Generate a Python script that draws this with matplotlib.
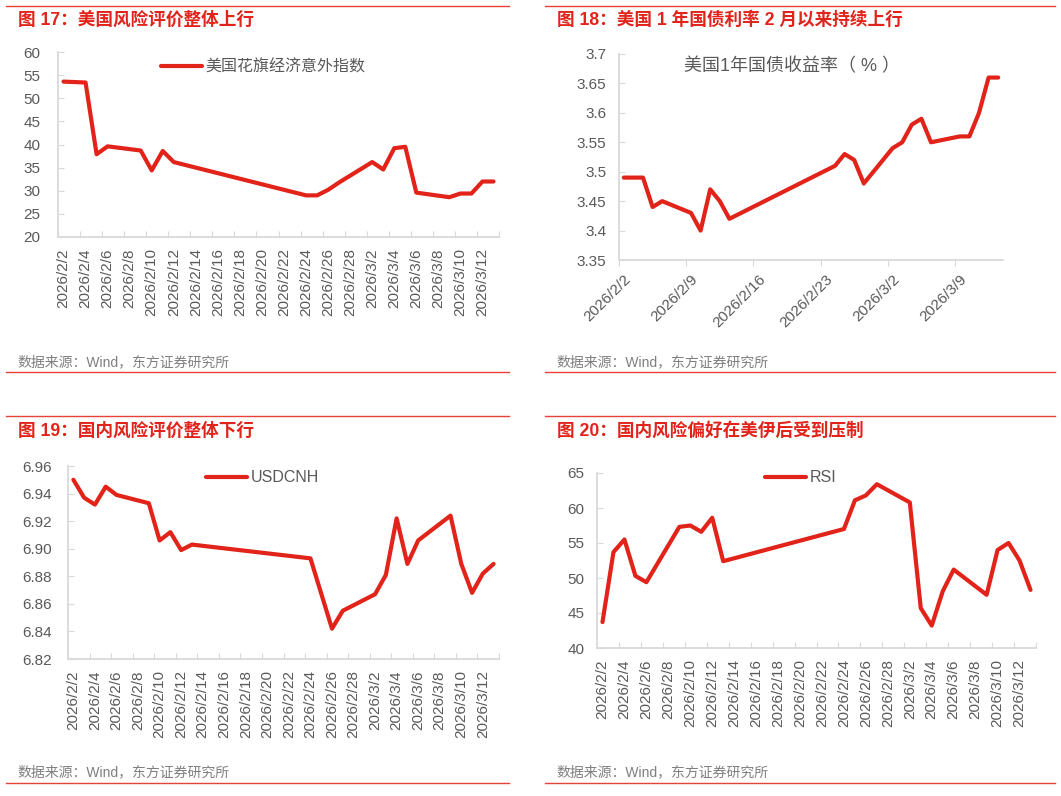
import matplotlib
matplotlib.use('Agg')
import matplotlib.pyplot as plt
from matplotlib.lines import Line2D
from matplotlib.ticker import FuncFormatter
import pandas as pd

plt.rcParams['font.family'] = ['Liberation Sans', 'Noto Sans CJK SC', 'DejaVu Sans']

# ---- data ----
dates1 = ['2/2', '2/3', '2/4', '2/5', '2/6', '2/9', '2/10', '2/11', '2/12', '2/24', '2/25',
          '2/26', '2/27', '3/2', '3/3', '3/4', '3/5', '3/6', '3/9', '3/10', '3/11', '3/12', '3/13']
citi = [53.6, 53.5, 53.4, 37.9, 39.6, 38.7, 34.4, 38.6, 36.2, 29.0, 29.0,
        30.2, 31.8, 36.2, 34.6, 39.2, 39.5, 29.6, 28.6, 29.4, 29.4, 32.0, 32.0]

dates2 = ['2/2', '2/3', '2/4', '2/5', '2/6', '2/9', '2/10', '2/11', '2/12', '2/13', '2/24', '2/25',
          '2/26', '2/27', '3/2', '3/3', '3/4', '3/5', '3/6', '3/9', '3/10', '3/11', '3/12', '3/13']
ust1y = [3.49, 3.49, 3.49, 3.44, 3.45, 3.43, 3.40, 3.47, 3.45, 3.42, 3.51, 3.53,
         3.52, 3.48, 3.54, 3.55, 3.58, 3.59, 3.55, 3.56, 3.56, 3.60, 3.66, 3.66]

dates3 = ['2/2', '2/3', '2/4', '2/5', '2/6', '2/9', '2/10', '2/11', '2/12', '2/13', '2/24',
          '2/26', '2/27', '3/2', '3/3', '3/4', '3/5', '3/6', '3/9', '3/10', '3/11', '3/12', '3/13']
usdcnh = [6.950, 6.937, 6.932, 6.945, 6.939, 6.933, 6.906, 6.912, 6.899, 6.903, 6.893,
          6.842, 6.855, 6.867, 6.881, 6.922, 6.889, 6.906, 6.924, 6.889, 6.868, 6.882, 6.889]

dates4 = ['2/2', '2/3', '2/4', '2/5', '2/6', '2/9', '2/10', '2/11', '2/12', '2/13', '2/24', '2/25',
          '2/26', '2/27', '3/2', '3/3', '3/4', '3/5', '3/6', '3/9', '3/10', '3/11', '3/12', '3/13']
rsi = [43.7, 53.7, 55.5, 50.3, 49.4, 57.3, 57.5, 56.6, 58.6, 52.4, 57.0, 61.1,
       61.8, 63.4, 60.8, 45.7, 43.2, 48.1, 51.2, 47.6, 54.0, 55.0, 52.5, 48.3]

labels_2d = ['2026/2/2', '2026/2/4', '2026/2/6', '2026/2/8', '2026/2/10', '2026/2/12',
             '2026/2/14', '2026/2/16', '2026/2/18', '2026/2/20', '2026/2/22', '2026/2/24',
             '2026/2/26', '2026/2/28', '2026/3/2', '2026/3/4', '2026/3/6', '2026/3/8',
             '2026/3/10', '2026/3/12']
labels_7d = ['2026/2/2', '2026/2/9', '2026/2/16', '2026/2/23', '2026/3/2', '2026/3/9']

titles = ['图 17：美国风险评价整体上行', '图 18：美国 1 年国债利率 2 月以来持续上行',
          '图 19：国内风险评价整体下行', '图 20：国内风险偏好在美伊后受到压制']
source = '数据来源：Wind，东方证券研究所'

base = pd.Timestamp('2026-02-02')


def day_index(ds):
    return [(pd.Timestamp('2026/' + d) - base).days for d in ds]


def label_index(ls):
    return [(pd.Timestamp(s) - base).days for s in ls]


RED = '#E2231A'
GRAY = '#595959'
AXC = '#D9D9D9'
W, H = 1061, 796

fig = plt.figure(figsize=(W / 100, H / 100), dpi=100)


def box(l, r, t, b):
    return [l / W, 1 - b / H, (r - l) / W, (b - t) / H]


def style(ax, ypad, tickdir='in'):
    for s in ['top', 'right']:
        ax.spines[s].set_visible(False)
    for s in ['left', 'bottom']:
        ax.spines[s].set_color(AXC)
        ax.spines[s].set_linewidth(1.3)
    ax.tick_params(axis='y', direction='in', length=4, color=AXC, labelcolor=GRAY, labelsize=11, pad=ypad)
    ax.tick_params(axis='x', which='major', direction=tickdir, length=4, color=AXC, labelsize=11)
    ax.set_xlim(-0.5, 39.5)


def date_ticks90(ax):
    ax.set_xticks([i - 0.5 for i in range(0, 41, 2)])
    ax.set_xticklabels([])
    ax.set_xticks(label_index(labels_2d), minor=True)
    ax.set_xticklabels(labels_2d, minor=True, rotation=90, color=GRAY, fontsize=11)
    ax.tick_params(axis='x', which='minor', length=0, pad=8)


def legend(ax, label, x, y):
    h = Line2D([], [], color=RED, lw=3, solid_capstyle='round')
    ax.legend([h], [label], loc='center left', bbox_to_anchor=(x / W, 1 - y / H),
              bbox_transform=fig.transFigure, frameon=False, borderpad=0,
              borderaxespad=0, handlelength=2.55, handletextpad=0.25,
              prop={'size': 11.5}, labelcolor=GRAY)


def frame_deco(x0, x1, ytop, ybot, title, tx, ty, sy):
    fig.add_artist(Line2D([x0 / W, x1 / W], [1 - ytop / H] * 2, color='#E8413A', lw=1))
    fig.add_artist(Line2D([x0 / W, x1 / W], [1 - ybot / H] * 2, color='#E8413A', lw=1))
    fig.text(tx / W, 1 - ty / H, title, color=RED, fontsize=12.7, fontweight='bold', va='center')
    fig.text((tx - 1) / W, 1 - sy / H, source, color='#7F7F7F', fontsize=10, va='center')


line_kw = dict(color=RED, lw=3, solid_joinstyle='round', solid_capstyle='round')

# panel 1
ax1 = fig.add_axes(box(58, 499, 52, 237))
ax1.plot(day_index(dates1), citi, **line_kw)
ax1.set_ylim(20, 60)
ax1.set_yticks(range(20, 61, 5))
style(ax1, 12.5)
date_ticks90(ax1)
legend(ax1, '美国花旗经济意外指数', 161, 67)

# panel 2
ax2 = fig.add_axes(box(619, 1003, 54, 260))
ax2.plot(day_index(dates2), ust1y, **line_kw)
ax2.set_ylim(3.35, 3.7)
ax2.set_yticks([3.35, 3.4, 3.45, 3.5, 3.55, 3.6, 3.65, 3.7])
ax2.yaxis.set_major_formatter(FuncFormatter(lambda v, p: '%g' % round(v, 2)))
style(ax2, 9, tickdir='out')
ax2.set_xticks([i - 0.5 for i in range(0, 41, 7)])
ax2.set_xticklabels([])
ax2.set_xticks(label_index(labels_7d), minor=True)
ax2.set_xticklabels(labels_7d, minor=True, rotation=45, ha='right', rotation_mode='anchor',
                    color=GRAY, fontsize=11)
ax2.tick_params(axis='x', which='minor', length=0, pad=9)
fig.text(792 / W, 1 - 67 / H, '美国1年国债收益率（ % ）', color=GRAY, fontsize=13,
         ha='center', va='center')

# panel 3
ax3 = fig.add_axes(box(68, 499, 466, 659))
ax3.plot(day_index(dates3), usdcnh, **line_kw)
ax3.set_ylim(6.82, 6.96)
ax3.set_yticks([6.82, 6.84, 6.86, 6.88, 6.90, 6.92, 6.94, 6.96])
ax3.yaxis.set_major_formatter(FuncFormatter(lambda v, p: '%.2f' % v))
style(ax3, 11.7)
date_ticks90(ax3)
legend(ax3, 'USDCNH', 206, 478)

# panel 4
ax4 = fig.add_axes(box(597, 1036, 473, 648))
ax4.plot(day_index(dates4), rsi, **line_kw)
ax4.set_ylim(40, 65)
ax4.set_yticks(range(40, 66, 5))
style(ax4, 9)
date_ticks90(ax4)
legend(ax4, 'RSI', 765, 478)

frame_deco(6, 509, 6, 372, titles[0], 18, 20, 362)
frame_deco(545, 1055, 6, 372, titles[1], 557, 20, 362)
frame_deco(6, 509, 416, 783, titles[2], 18, 431, 772)
frame_deco(545, 1055, 416, 783, titles[3], 557, 431, 772)

fig.savefig('out.png', dpi=100, facecolor='white')
